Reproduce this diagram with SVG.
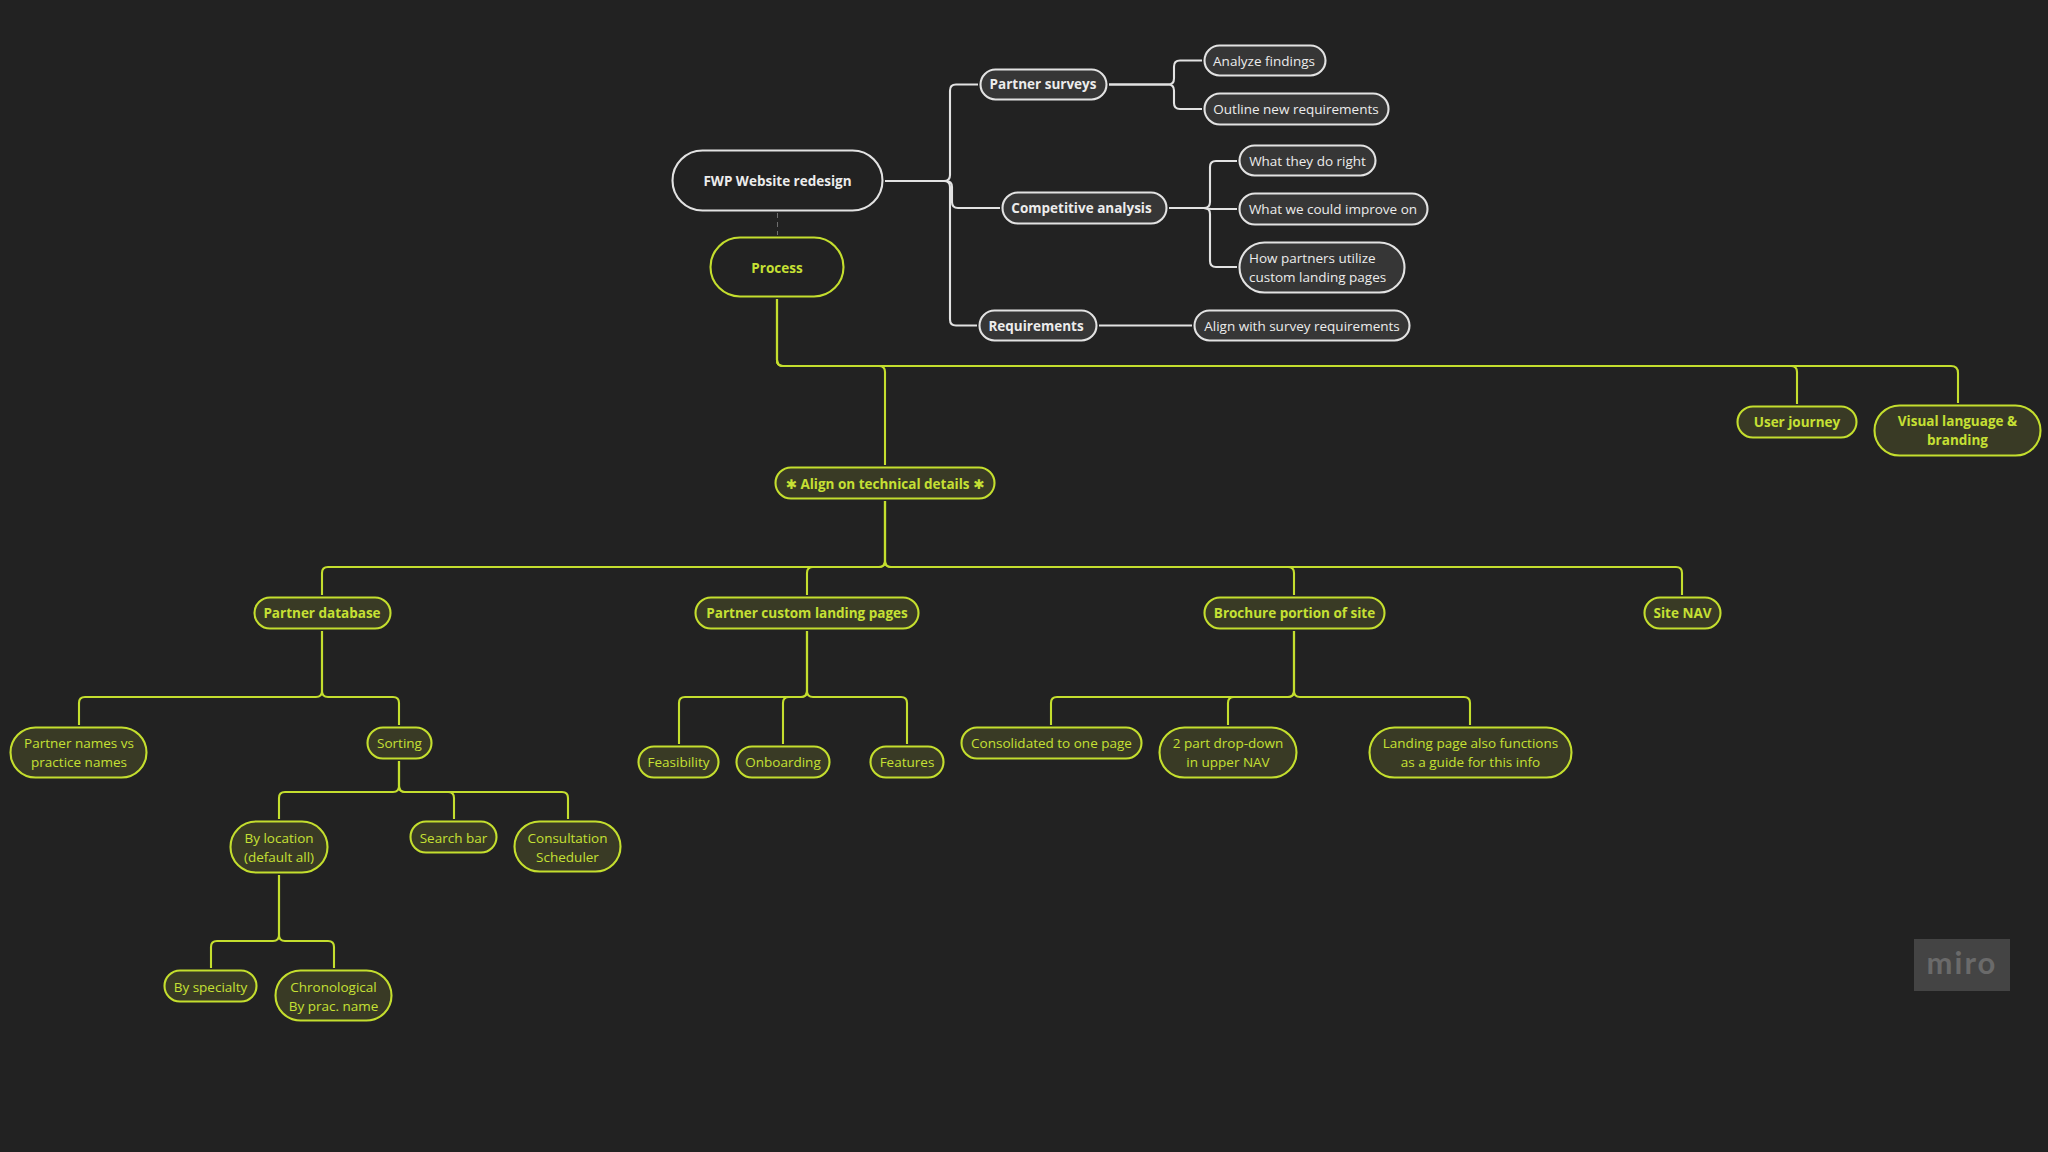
<svg xmlns="http://www.w3.org/2000/svg" width="2048" height="1152" viewBox="0 0 2048 1152">
<style>
text{font-family:"Open Sans","DejaVu Sans",sans-serif;font-size:13.5px;text-anchor:middle}
.w rect{fill:#363636;stroke:#e2e2e2;stroke-width:2.1}
.w text{fill:#ececec}
.y rect{fill:#393a25;stroke:#c4de2e;stroke-width:2.1}
.y text{fill:#c6e034}
.b text{font-weight:700}
.l text{text-anchor:start}
.r rect{fill:#222222}
#connectors path{fill:none;stroke-width:2.1}
.cw{stroke:#e2e2e2}
.cy{stroke:#c4de2e}
</style>
<rect width="2048" height="1152" fill="#222222"/>
<g id="connectors">
<path class="cw" d="M885 181H944Q950 181 950 175V90.5Q950 84.5 956 84.5H978"/>
<path class="cw" d="M885 181H944Q950 181 950 187V319.5Q950 325.5 956 325.5H977"/>
<path class="cw" d="M885 181H946Q952 181 952 187V202Q952 208 958 208H1000"/>
<path class="cw" d="M1109 84.5H1168Q1174 84.5 1174 78.5V66.5Q1174 60.5 1180 60.5H1202"/>
<path class="cw" d="M1109 84.5H1168Q1174 84.5 1174 90.5V103Q1174 109 1180 109H1202"/>
<path class="cw" d="M1169 208H1204Q1210 208 1210 202V167Q1210 161 1216 161H1237"/>
<path class="cw" d="M1169 208H1204Q1210 208 1210 214V261Q1210 267 1216 267H1237"/>
<path class="cw" d="M1204 208Q1207 209 1212 209H1237"/>
<path class="cw" d="M1099 325.5H1192"/>
<path d="M777.5 213V235" style="stroke:#6e6e6e;stroke-width:1;stroke-dasharray:5 4"/>
<path class="cy" d="M777 299V360Q777 366 783 366H879Q885 366 885 372V465"/>
<path class="cy" d="M777 299V360Q777 366 783 366H1791Q1797 366 1797 372V404"/>
<path class="cy" d="M777 299V360Q777 366 783 366H1951Q1958 366 1958 373V403"/>
<path class="cy" d="M885 501V561Q885 567 879 567H328Q322 567 322 573V595"/>
<path class="cy" d="M885 501V561Q885 567 879 567H813Q807 567 807 573V595"/>
<path class="cy" d="M885 501V561Q885 567 891 567H1288Q1294 567 1294 573V595"/>
<path class="cy" d="M885 501V561Q885 567 891 567H1676Q1682 567 1682 573V595"/>
<path class="cy" d="M322 631V691Q322 697 316 697H85Q79 697 79 703V725"/>
<path class="cy" d="M322 631V691Q322 697 328 697H393Q399 697 399 703V725"/>
<path class="cy" d="M399 761V786Q399 792 393 792H285Q279 792 279 798V819"/>
<path class="cy" d="M399 761V786Q399 792 405 792H448Q454 792 454 798V819"/>
<path class="cy" d="M399 761V786Q399 792 405 792H562Q568 792 568 798V819"/>
<path class="cy" d="M279 875V935Q279 941 273 941H217Q211 941 211 947V968"/>
<path class="cy" d="M279 875V935Q279 941 285 941H328Q334 941 334 947V968"/>
<path class="cy" d="M807 631V691Q807 697 801 697H685Q679 697 679 703V744"/>
<path class="cy" d="M807 631V691Q807 697 801 697H789Q783 697 783 703V744"/>
<path class="cy" d="M807 631V691Q807 697 813 697H901Q907 697 907 703V744"/>
<path class="cy" d="M1294 631V691Q1294 697 1288 697H1057Q1051 697 1051 703V725"/>
<path class="cy" d="M1294 631V691Q1294 697 1288 697H1234Q1228 697 1228 703V725"/>
<path class="cy" d="M1294 631V691Q1294 697 1300 697H1464Q1470 697 1470 703V725"/>
</g>
<g id="n-fwp" class="w b r"><rect x="672.500" y="150.500" width="210" height="60" rx="30"/><text x="777.5" y="185.500">FWP Website redesign</text></g>
<g id="n-process" class="y b r"><rect x="710.500" y="237.500" width="133" height="59" rx="29.500"/><text x="777" y="272.500">Process</text></g>
<g id="n-surveys" class="w b"><rect x="980.500" y="69.500" width="126" height="30" rx="15"/><text x="1043" y="89">Partner surveys</text></g>
<g id="n-competitive" class="w b"><rect x="1002.500" y="192.500" width="164" height="31" rx="15.500"/><text x="1081.500" y="212.500">Competitive analysis</text></g>
<g id="n-requirements" class="w b"><rect x="979.500" y="310.500" width="117" height="30" rx="15"/><text x="1036" y="330.500">Requirements</text></g>
<g id="n-analyze" class="w"><rect x="1204.500" y="45.500" width="121" height="30" rx="15"/><text x="1264" y="65.500">Analyze findings</text></g>
<g id="n-outline" class="w"><rect x="1204.500" y="93.500" width="184" height="31" rx="15.500"/><text x="1296" y="114">Outline new requirements</text></g>
<g id="n-right" class="w"><rect x="1239.500" y="145.500" width="136" height="30" rx="15"/><text x="1307.500" y="165.500">What they do right</text></g>
<g id="n-improve" class="w"><rect x="1239.500" y="193.500" width="188" height="31" rx="15.500"/><text x="1333" y="214">What we could improve on</text></g>
<g id="n-how" class="w l"><rect x="1239.500" y="242.500" width="165" height="50" rx="25"/><text x="1249" y="263">How partners utilize</text><text x="1249" y="282">custom landing pages</text></g>
<g id="n-align-survey" class="w"><rect x="1194.500" y="310.500" width="215" height="30" rx="15"/><text x="1302" y="330.500">Align with survey requirements</text></g>
<g id="n-technical" class="y b"><rect x="775.500" y="467.500" width="219" height="31" rx="15.500"/><text x="885" y="488.500">✱ Align on technical details ✱</text></g>
<g id="n-journey" class="y b"><rect x="1737.500" y="406.500" width="119" height="31" rx="15.500"/><text x="1797" y="427">User journey</text></g>
<g id="n-visual" class="y b"><rect x="1874.500" y="405.500" width="166" height="50" rx="25"/><text x="1957.500" y="426">Visual language &amp;</text><text x="1957.500" y="445">branding</text></g>
<g id="n-database" class="y b"><rect x="254.500" y="597.500" width="136" height="31" rx="15.500"/><text x="322" y="618">Partner database</text></g>
<g id="n-landing" class="y b"><rect x="695.500" y="597.500" width="223" height="31" rx="15.500"/><text x="807" y="618">Partner custom landing pages</text></g>
<g id="n-brochure" class="y b"><rect x="1204.500" y="597.500" width="180" height="31" rx="15.500"/><text x="1294.500" y="618">Brochure portion of site</text></g>
<g id="n-sitenav" class="y b"><rect x="1644.500" y="597.500" width="76" height="31" rx="15.500"/><text x="1682.500" y="618">Site NAV</text></g>
<g id="n-names" class="y"><rect x="10.500" y="727.500" width="136" height="50" rx="25"/><text x="79" y="748">Partner names vs</text><text x="79" y="767">practice names</text></g>
<g id="n-sorting" class="y"><rect x="367.500" y="727.500" width="64" height="31" rx="15.500"/><text x="399.500" y="748">Sorting</text></g>
<g id="n-location" class="y"><rect x="230.500" y="821.500" width="97" height="51" rx="25.500"/><text x="279" y="842.500">By location</text><text x="279" y="861.500">(default all)</text></g>
<g id="n-search" class="y"><rect x="410.500" y="821.500" width="86" height="31" rx="15.500"/><text x="453.500" y="842.500">Search bar</text></g>
<g id="n-consult" class="y"><rect x="514.500" y="821.500" width="106" height="50" rx="25"/><text x="567.500" y="842.500">Consultation</text><text x="567.500" y="861.500">Scheduler</text></g>
<g id="n-specialty" class="y"><rect x="164.500" y="970.500" width="92" height="31" rx="15.500"/><text x="210.500" y="991.500">By specialty</text></g>
<g id="n-chrono" class="y"><rect x="275.500" y="970.500" width="116" height="50" rx="25"/><text x="333.500" y="991.500">Chronological</text><text x="333.500" y="1010.500">By prac. name</text></g>
<g id="n-feasibility" class="y"><rect x="638.500" y="746.500" width="80" height="31" rx="15.500"/><text x="678.500" y="767">Feasibility</text></g>
<g id="n-onboarding" class="y"><rect x="736.500" y="746.500" width="93" height="31" rx="15.500"/><text x="783" y="767">Onboarding</text></g>
<g id="n-features" class="y"><rect x="870.500" y="746.500" width="73" height="31" rx="15.500"/><text x="907" y="767">Features</text></g>
<g id="n-consolidated" class="y"><rect x="961.500" y="727.500" width="180" height="31" rx="15.500"/><text x="1051.500" y="748">Consolidated to one page</text></g>
<g id="n-dropdown" class="y"><rect x="1159.500" y="727.500" width="137" height="50" rx="25"/><text x="1228" y="748">2 part drop-down</text><text x="1228" y="767">in upper NAV</text></g>
<g id="n-guide" class="y"><rect x="1369.500" y="727.500" width="202" height="50" rx="25"/><text x="1470.500" y="748">Landing page also functions</text><text x="1470.500" y="767">as a guide for this info</text></g>
<g id="miro"><rect x="1914" y="939" width="96" height="52" fill="#444444"/><text x="1962" y="974" style="font-family:'Lato',sans-serif;font-size:31px;font-weight:700;letter-spacing:2px;fill:#6a6a6a">miro</text></g>
</svg>
